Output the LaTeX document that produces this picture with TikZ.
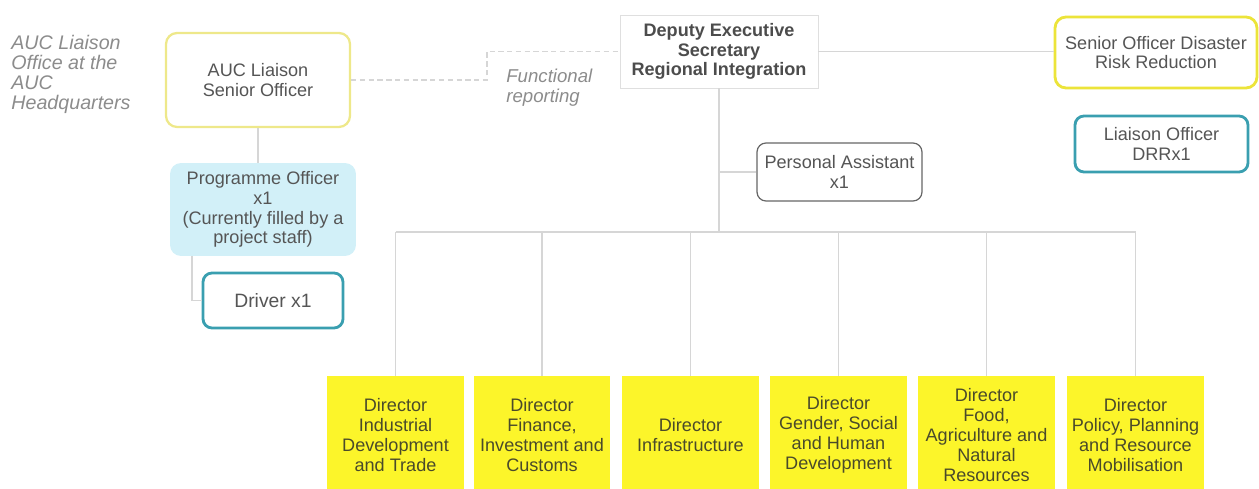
\documentclass[tikz,border=0pt]{standalone}
\usepackage{fontspec}
\setmainfont{Liberation Sans}
\usetikzlibrary{calc}
\definecolor{txt}{HTML}{555555}
\definecolor{dtxt}{HTML}{4A4A2A}
\definecolor{paleyel}{HTML}{EEE88A}
\definecolor{brightyel}{HTML}{ECE43A}
\definecolor{teal}{HTML}{3A9FB0}
\definecolor{cyanfill}{HTML}{D2F0F8}
\definecolor{dirfill}{HTML}{FCF52A}
\definecolor{conn}{HTML}{D6D6D6}
\tikzset{
  base/.style={align=center, text=txt, font=\fontsize{10.3}{11.3}\selectfont, inner sep=2pt},
  yelbox/.style={base, draw=paleyel, line width=1.3pt, rounded corners=0.22cm, fill=white},
  brightbox/.style={base, draw=brightyel, line width=1.6pt, rounded corners=0.22cm, fill=white},
  tealbox/.style={base, draw=teal, line width=1.6pt, rounded corners=0.18cm, fill=white},
  cyanbox/.style={base, fill=cyanfill, rounded corners=0.22cm},
  greybox/.style={base, draw=gray!80!black, line width=0.7pt, rounded corners=0.18cm, fill=white},
  desbox/.style={base, draw=gray!25, line width=0.5pt, font=\bfseries\fontsize{10.3}{11.3}\selectfont, text=black!70},
  dirbox/.style={base, fill=dirfill, text=dtxt, minimum width=2.74cm, minimum height=2.36cm},
  conline/.style={draw=conn, line width=0.7pt},
  note/.style={align=left, text=gray!90, font=\itshape\fontsize{11.2}{11.3}\selectfont, inner sep=0pt}
}
\begin{document}
\begin{tikzpicture}[x=0.02cm, y=-0.02cm]
\useasboundingbox (0,0) rectangle (1259,489);
\clip (0,0) rectangle (1259,489);

% left note
\node[note, anchor=north west] (hq) at (11,35) {AUC Liaison\\Office at the\\AUC\\Headquarters};
\node[note, anchor=north west, font=\itshape\fontsize{10.6}{11.3}\selectfont] (fr) at (506,69) {Functional\\reporting};

% top boxes
\node[yelbox, minimum width=3.68cm, minimum height=1.88cm] (auc) at (258,80) {AUC Liaison\\Senior Officer};
\node[cyanbox, minimum width=3.72cm, minimum height=1.86cm] (prog) at (263,209.5) {Programme Officer\\x1\\(Currently filled by a\\project staff)};
\node[tealbox, minimum width=2.8cm, minimum height=1.1cm, font=\fontsize{11}{12}\selectfont] (drv) at (273,300.5) {Driver x1};
\node[desbox, minimum width=3.96cm, minimum height=1.46cm] (des) at (719,51.5) {Deputy Executive\\Secretary\\Regional Integration};
\node[brightbox, minimum width=4.04cm, minimum height=1.42cm] (sodrr) at (1156,52.5) {Senior Officer Disaster\\Risk Reduction};
\node[tealbox, minimum width=3.46cm, minimum height=1.12cm] (lo) at (1161.5,144) {Liaison Officer\\DRRx1};
\node[greybox, minimum width=3.3cm, minimum height=1.16cm] (pa) at (839.5,172) {Personal Assistant\\x1};

% directors
\node[dirbox] (d1) at (395.5,435) {Director\\Industrial\\Development\\and Trade};
\node[dirbox] (d2) at (542,435) {Director\\Finance,\\Investment and\\Customs};
\node[dirbox] (d3) at (690.5,435) {Director\\Infrastructure};
\node[dirbox] (d4) at (838.5,435) {Director\\Gender, Social\\and Human\\Development};
\node[dirbox] (d5) at (986.5,435) {Director\\Food,\\Agriculture and\\Natural\\Resources};
\node[dirbox] (d6) at (1135.5,435) {Director\\Policy, Planning\\and Resource\\Mobilisation};

% coordinates
\coordinate (bus) at (719,232);
\coordinate (fbend) at (487,80);
\coordinate (pdrop) at (192,256);

% connectors
\draw[conline] (auc.south) -- (auc.south |- prog.north);
\draw[conline] (pdrop) |- (drv.west);
\draw[conline, dashed, dash pattern=on 3pt off 2pt] (auc.east) -- (fbend) |- (des.west);
\draw[conline] (des.east) -- (des.east -| sodrr.west);
\draw[conline] (des.south) -- (bus);
\draw[conline] (des.south |- pa.west) -- (pa.west);
\draw[conline] (d1.north |- bus) -- (d6.north |- bus);
\foreach \d in {d1,d2,d3,d4,d5,d6}{
  \draw[conline] (\d.north |- bus) -- (\d.north);
}
\end{tikzpicture}
\end{document}
